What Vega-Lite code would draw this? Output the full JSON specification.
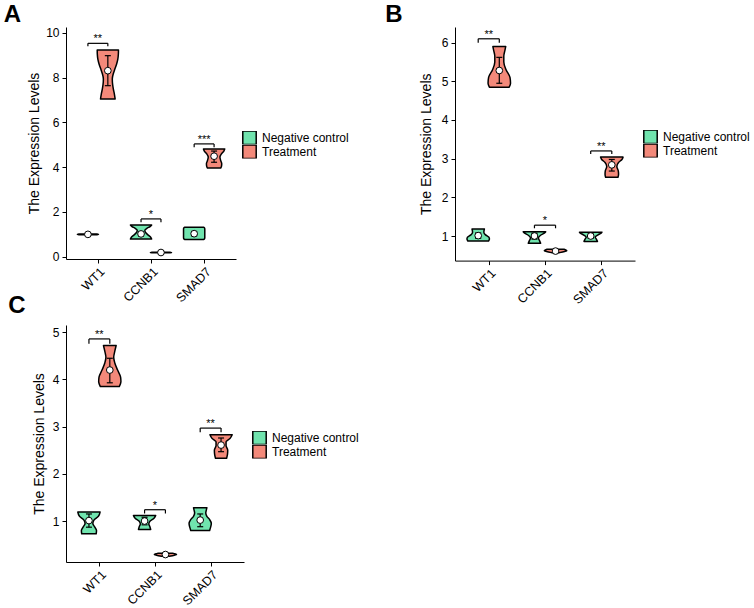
{
  "$schema": "https://vega.github.io/schema/vega-lite/v6.json",
  "padding": {"left": 3, "top": 2, "right": 0, "bottom": 0},
  "datasets": {
    "violins": [
      {"p":"A","gene":"WT1","group":"Negative control","y":0.985,"w":0.85},
      {"p":"A","gene":"WT1","group":"Negative control","y":1.0,"w":1},
      {"p":"A","gene":"WT1","group":"Negative control","y":1.015,"w":0.85},
      {"p":"A","gene":"WT1","group":"Treatment","y":7.04,"w":0.69},
      {"p":"A","gene":"WT1","group":"Treatment","y":7.25,"w":0.62},
      {"p":"A","gene":"WT1","group":"Treatment","y":7.49,"w":0.52},
      {"p":"A","gene":"WT1","group":"Treatment","y":7.7,"w":0.45},
      {"p":"A","gene":"WT1","group":"Treatment","y":7.94,"w":0.42},
      {"p":"A","gene":"WT1","group":"Treatment","y":8.15,"w":0.5},
      {"p":"A","gene":"WT1","group":"Treatment","y":8.38,"w":0.66},
      {"p":"A","gene":"WT1","group":"Treatment","y":8.6,"w":0.82},
      {"p":"A","gene":"WT1","group":"Treatment","y":8.83,"w":0.94},
      {"p":"A","gene":"WT1","group":"Treatment","y":9.05,"w":0.99},
      {"p":"A","gene":"WT1","group":"Treatment","y":9.23,"w":1},
      {"p":"A","gene":"CCNB1","group":"Negative control","y":0.79,"w":1},
      {"p":"A","gene":"CCNB1","group":"Negative control","y":0.9,"w":0.85},
      {"p":"A","gene":"CCNB1","group":"Negative control","y":1.0,"w":0.6},
      {"p":"A","gene":"CCNB1","group":"Negative control","y":1.1,"w":0.4},
      {"p":"A","gene":"CCNB1","group":"Negative control","y":1.18,"w":0.36},
      {"p":"A","gene":"CCNB1","group":"Negative control","y":1.27,"w":0.55},
      {"p":"A","gene":"CCNB1","group":"Negative control","y":1.35,"w":0.85},
      {"p":"A","gene":"CCNB1","group":"Negative control","y":1.42,"w":1},
      {"p":"A","gene":"CCNB1","group":"Treatment","y":0.175,"w":0.85},
      {"p":"A","gene":"CCNB1","group":"Treatment","y":0.19,"w":1},
      {"p":"A","gene":"CCNB1","group":"Treatment","y":0.205,"w":0.85},
      {"p":"A","gene":"SMAD7","group":"Negative control","y":0.77,"w":0.88},
      {"p":"A","gene":"SMAD7","group":"Negative control","y":0.8,"w":0.97},
      {"p":"A","gene":"SMAD7","group":"Negative control","y":0.85,"w":1},
      {"p":"A","gene":"SMAD7","group":"Negative control","y":1.24,"w":1},
      {"p":"A","gene":"SMAD7","group":"Negative control","y":1.29,"w":0.97},
      {"p":"A","gene":"SMAD7","group":"Negative control","y":1.32,"w":0.88},
      {"p":"A","gene":"SMAD7","group":"Treatment","y":3.96,"w":0.62},
      {"p":"A","gene":"SMAD7","group":"Treatment","y":4.05,"w":0.7},
      {"p":"A","gene":"SMAD7","group":"Treatment","y":4.15,"w":0.72},
      {"p":"A","gene":"SMAD7","group":"Treatment","y":4.3,"w":0.62},
      {"p":"A","gene":"SMAD7","group":"Treatment","y":4.45,"w":0.55},
      {"p":"A","gene":"SMAD7","group":"Treatment","y":4.6,"w":0.7},
      {"p":"A","gene":"SMAD7","group":"Treatment","y":4.72,"w":0.92},
      {"p":"A","gene":"SMAD7","group":"Treatment","y":4.81,"w":1},
      {"p":"B","gene":"WT1","group":"Negative control","y":0.87,"w":0.92},
      {"p":"B","gene":"WT1","group":"Negative control","y":0.92,"w":1},
      {"p":"B","gene":"WT1","group":"Negative control","y":0.97,"w":0.95},
      {"p":"B","gene":"WT1","group":"Negative control","y":1.03,"w":0.65},
      {"p":"B","gene":"WT1","group":"Negative control","y":1.1,"w":0.5},
      {"p":"B","gene":"WT1","group":"Negative control","y":1.18,"w":0.55},
      {"p":"B","gene":"WT1","group":"Treatment","y":4.85,"w":0.88},
      {"p":"B","gene":"WT1","group":"Treatment","y":4.95,"w":1},
      {"p":"B","gene":"WT1","group":"Treatment","y":5.1,"w":0.95},
      {"p":"B","gene":"WT1","group":"Treatment","y":5.3,"w":0.6},
      {"p":"B","gene":"WT1","group":"Treatment","y":5.5,"w":0.4},
      {"p":"B","gene":"WT1","group":"Treatment","y":5.65,"w":0.4},
      {"p":"B","gene":"WT1","group":"Treatment","y":5.8,"w":0.5},
      {"p":"B","gene":"WT1","group":"Treatment","y":5.9,"w":0.57},
      {"p":"B","gene":"CCNB1","group":"Negative control","y":0.81,"w":0.55},
      {"p":"B","gene":"CCNB1","group":"Negative control","y":0.88,"w":0.45},
      {"p":"B","gene":"CCNB1","group":"Negative control","y":0.95,"w":0.35},
      {"p":"B","gene":"CCNB1","group":"Negative control","y":1.02,"w":0.55},
      {"p":"B","gene":"CCNB1","group":"Negative control","y":1.08,"w":0.9},
      {"p":"B","gene":"CCNB1","group":"Negative control","y":1.11,"w":1},
      {"p":"B","gene":"CCNB1","group":"Treatment","y":0.57,"w":0.35},
      {"p":"B","gene":"CCNB1","group":"Treatment","y":0.6,"w":0.8},
      {"p":"B","gene":"CCNB1","group":"Treatment","y":0.62,"w":1},
      {"p":"B","gene":"CCNB1","group":"Treatment","y":0.645,"w":0.85},
      {"p":"B","gene":"CCNB1","group":"Treatment","y":0.66,"w":0.75},
      {"p":"B","gene":"SMAD7","group":"Negative control","y":0.86,"w":0.6},
      {"p":"B","gene":"SMAD7","group":"Negative control","y":0.92,"w":0.5},
      {"p":"B","gene":"SMAD7","group":"Negative control","y":0.97,"w":0.4},
      {"p":"B","gene":"SMAD7","group":"Negative control","y":1.03,"w":0.65},
      {"p":"B","gene":"SMAD7","group":"Negative control","y":1.08,"w":0.95},
      {"p":"B","gene":"SMAD7","group":"Negative control","y":1.1,"w":1},
      {"p":"B","gene":"SMAD7","group":"Treatment","y":2.52,"w":0.55},
      {"p":"B","gene":"SMAD7","group":"Treatment","y":2.6,"w":0.6},
      {"p":"B","gene":"SMAD7","group":"Treatment","y":2.68,"w":0.58},
      {"p":"B","gene":"SMAD7","group":"Treatment","y":2.8,"w":0.45},
      {"p":"B","gene":"SMAD7","group":"Treatment","y":2.9,"w":0.6},
      {"p":"B","gene":"SMAD7","group":"Treatment","y":2.98,"w":0.9},
      {"p":"B","gene":"SMAD7","group":"Treatment","y":3.04,"w":1},
      {"p":"C","gene":"WT1","group":"Negative control","y":0.73,"w":0.65},
      {"p":"C","gene":"WT1","group":"Negative control","y":0.8,"w":0.68},
      {"p":"C","gene":"WT1","group":"Negative control","y":0.88,"w":0.5},
      {"p":"C","gene":"WT1","group":"Negative control","y":0.95,"w":0.35},
      {"p":"C","gene":"WT1","group":"Negative control","y":1.02,"w":0.45},
      {"p":"C","gene":"WT1","group":"Negative control","y":1.1,"w":0.85},
      {"p":"C","gene":"WT1","group":"Negative control","y":1.19,"w":1},
      {"p":"C","gene":"WT1","group":"Treatment","y":3.85,"w":0.85},
      {"p":"C","gene":"WT1","group":"Treatment","y":3.95,"w":1},
      {"p":"C","gene":"WT1","group":"Treatment","y":4.05,"w":0.97},
      {"p":"C","gene":"WT1","group":"Treatment","y":4.2,"w":0.7},
      {"p":"C","gene":"WT1","group":"Treatment","y":4.35,"w":0.45},
      {"p":"C","gene":"WT1","group":"Treatment","y":4.47,"w":0.35},
      {"p":"C","gene":"WT1","group":"Treatment","y":4.6,"w":0.45},
      {"p":"C","gene":"WT1","group":"Treatment","y":4.72,"w":0.57},
      {"p":"C","gene":"CCNB1","group":"Negative control","y":0.82,"w":0.55},
      {"p":"C","gene":"CCNB1","group":"Negative control","y":0.88,"w":0.48},
      {"p":"C","gene":"CCNB1","group":"Negative control","y":0.94,"w":0.38},
      {"p":"C","gene":"CCNB1","group":"Negative control","y":1.0,"w":0.5},
      {"p":"C","gene":"CCNB1","group":"Negative control","y":1.06,"w":0.85},
      {"p":"C","gene":"CCNB1","group":"Negative control","y":1.12,"w":1},
      {"p":"C","gene":"CCNB1","group":"Treatment","y":0.255,"w":0.35},
      {"p":"C","gene":"CCNB1","group":"Treatment","y":0.275,"w":0.8},
      {"p":"C","gene":"CCNB1","group":"Treatment","y":0.29,"w":1},
      {"p":"C","gene":"CCNB1","group":"Treatment","y":0.305,"w":0.85},
      {"p":"C","gene":"CCNB1","group":"Treatment","y":0.315,"w":0.7},
      {"p":"C","gene":"SMAD7","group":"Negative control","y":0.8,"w":0.85},
      {"p":"C","gene":"SMAD7","group":"Negative control","y":0.88,"w":0.95},
      {"p":"C","gene":"SMAD7","group":"Negative control","y":0.95,"w":1},
      {"p":"C","gene":"SMAD7","group":"Negative control","y":1.03,"w":0.85},
      {"p":"C","gene":"SMAD7","group":"Negative control","y":1.1,"w":0.6},
      {"p":"C","gene":"SMAD7","group":"Negative control","y":1.17,"w":0.5},
      {"p":"C","gene":"SMAD7","group":"Negative control","y":1.23,"w":0.55},
      {"p":"C","gene":"SMAD7","group":"Negative control","y":1.28,"w":0.6},
      {"p":"C","gene":"SMAD7","group":"Treatment","y":2.33,"w":0.5},
      {"p":"C","gene":"SMAD7","group":"Treatment","y":2.42,"w":0.58},
      {"p":"C","gene":"SMAD7","group":"Treatment","y":2.5,"w":0.6},
      {"p":"C","gene":"SMAD7","group":"Treatment","y":2.6,"w":0.45},
      {"p":"C","gene":"SMAD7","group":"Treatment","y":2.68,"w":0.45},
      {"p":"C","gene":"SMAD7","group":"Treatment","y":2.75,"w":0.8},
      {"p":"C","gene":"SMAD7","group":"Treatment","y":2.83,"w":1}
    ],
    "means": [
      {"p":"A","gene":"WT1","group":"Negative control","mean":1.0,"lo":0.99,"hi":1.01},
      {"p":"A","gene":"WT1","group":"Treatment","mean":8.31,"lo":7.64,"hi":8.98},
      {"p":"A","gene":"CCNB1","group":"Negative control","mean":1.02,"lo":0.92,"hi":1.12},
      {"p":"A","gene":"CCNB1","group":"Treatment","mean":0.19,"lo":0.18,"hi":0.2},
      {"p":"A","gene":"SMAD7","group":"Negative control","mean":1.03,"lo":0.93,"hi":1.13},
      {"p":"A","gene":"SMAD7","group":"Treatment","mean":4.49,"lo":4.22,"hi":4.72},
      {"p":"B","gene":"WT1","group":"Negative control","mean":1.01,"lo":0.94,"hi":1.08},
      {"p":"B","gene":"WT1","group":"Treatment","mean":5.28,"lo":4.95,"hi":5.62},
      {"p":"B","gene":"CCNB1","group":"Negative control","mean":1.0,"lo":0.92,"hi":1.07},
      {"p":"B","gene":"CCNB1","group":"Treatment","mean":0.61,"lo":0.6,"hi":0.63},
      {"p":"B","gene":"SMAD7","group":"Negative control","mean":1.0,"lo":0.94,"hi":1.05},
      {"p":"B","gene":"SMAD7","group":"Treatment","mean":2.84,"lo":2.68,"hi":2.98},
      {"p":"C","gene":"WT1","group":"Negative control","mean":1.01,"lo":0.87,"hi":1.15},
      {"p":"C","gene":"WT1","group":"Treatment","mean":4.2,"lo":3.93,"hi":4.45},
      {"p":"C","gene":"CCNB1","group":"Negative control","mean":1.0,"lo":0.92,"hi":1.08},
      {"p":"C","gene":"CCNB1","group":"Treatment","mean":0.29,"lo":0.28,"hi":0.3},
      {"p":"C","gene":"SMAD7","group":"Negative control","mean":1.02,"lo":0.88,"hi":1.15},
      {"p":"C","gene":"SMAD7","group":"Treatment","mean":2.61,"lo":2.47,"hi":2.76}
    ],
    "sig": [
      {"p":"A","gene":"WT1","ybar":9.53,"ylow":9.4,"label":"**"},
      {"p":"A","gene":"CCNB1","ybar":1.69,"ylow":1.54,"label":"*"},
      {"p":"A","gene":"SMAD7","ybar":5.04,"ylow":4.89,"label":"***"},
      {"p":"B","gene":"WT1","ybar":6.1,"ylow":6.0,"label":"**"},
      {"p":"B","gene":"CCNB1","ybar":1.28,"ylow":1.2,"label":"*"},
      {"p":"B","gene":"SMAD7","ybar":3.2,"ylow":3.12,"label":"**"},
      {"p":"C","gene":"WT1","ybar":4.86,"ylow":4.76,"label":"**"},
      {"p":"C","gene":"CCNB1","ybar":1.24,"ylow":1.16,"label":"*"},
      {"p":"C","gene":"SMAD7","ybar":2.97,"ylow":2.88,"label":"**"}
    ]
  },
  "vconcat": [
    {
      "hconcat": [
        {
          "width": 170, "height": 232,
          "title": {"text": "A", "dx": -24, "offset": 0},
          "layer": [
            {"data": {"name": "violins"},
             "transform": [{"filter": "datum.p == 'A'"},
               {"calculate": "indexof(['WT1','CCNB1','SMAD7'], datum.gene) + 1 + (datum.group == 'Treatment' ? 0.1875 : -0.1875)", "as": "xc"},
               {"calculate": "datum.xc - 0.2*datum.w", "as": "xl"},
               {"calculate": "datum.xc + 0.2*datum.w", "as": "xr"}],
             "mark": {"type": "area", "orient": "horizontal", "stroke": "black", "strokeWidth": 1.5, "strokeJoin": "round", "opacity": 1, "interpolate": "monotone"},
             "encoding": {
               "y": {"field": "y", "type": "quantitative", "title": "The Expression Levels", "scale": {"domain": [-0.1, 10.26], "nice": false, "zero": false}, "axis": {"values": [0,2,4,6,8,10], "titlePadding": 4}},
               "x": {"field": "xl", "type": "quantitative", "title": null, "scale": {"domain": [0.4, 3.6], "nice": false, "zero": false}, "axis": {"values": [1,2,3], "labelExpr": "['WT1','CCNB1','SMAD7'][datum.value-1]", "labelAngle": -45, "labelAlign": "right", "labelBaseline": "top", "labelPadding": 2, "labelFontSize": 12.5}},
               "x2": {"field": "xr"},
               "fill": {"field": "group", "type": "nominal", "scale": {"domain": ["Negative control", "Treatment"], "range": ["#70E4AE", "#F3897A"]}, "legend": {"orient": "none", "legendX": 176, "legendY": 104, "title": null}},
               "detail": {"field": "gene"}
             }},
            {"data": {"name": "means"},
             "transform": [{"filter": "datum.p == 'A'"},
               {"calculate": "indexof(['WT1','CCNB1','SMAD7'], datum.gene) + 1 + (datum.group == 'Treatment' ? 0.1875 : -0.1875)", "as": "xc"}],
             "mark": {"type": "rule", "color": "black", "strokeWidth": 1.2},
             "encoding": {"x": {"field": "xc", "type": "quantitative", "title": null}, "y": {"field": "lo", "type": "quantitative", "title": "The Expression Levels"}, "y2": {"field": "hi"}}},
            {"data": {"name": "means"},
             "transform": [{"filter": "datum.p == 'A'"},
               {"calculate": "indexof(['WT1','CCNB1','SMAD7'], datum.gene) + 1 + (datum.group == 'Treatment' ? 0.1875 : -0.1875)", "as": "xc"},
               {"fold": ["lo", "hi"], "as": ["k", "v"]}],
             "mark": {"type": "tick", "orient": "horizontal", "color": "black", "size": 6, "thickness": 1.2, "opacity": 1},
             "encoding": {"x": {"field": "xc", "type": "quantitative", "title": null}, "y": {"field": "v", "type": "quantitative", "title": "The Expression Levels"}}},
            {"data": {"name": "means"},
             "transform": [{"filter": "datum.p == 'A'"},
               {"calculate": "indexof(['WT1','CCNB1','SMAD7'], datum.gene) + 1 + (datum.group == 'Treatment' ? 0.1875 : -0.1875)", "as": "xc"}],
             "mark": {"type": "point", "shape": "circle", "filled": true, "fill": "white", "stroke": "black", "strokeWidth": 1, "size": 45, "opacity": 1},
             "encoding": {"x": {"field": "xc", "type": "quantitative", "title": null}, "y": {"field": "mean", "type": "quantitative", "title": "The Expression Levels"}}},
            {"data": {"name": "sig"},
             "transform": [{"filter": "datum.p == 'A'"},
               {"calculate": "indexof(['WT1','CCNB1','SMAD7'], datum.gene) + 1", "as": "xg"},
               {"calculate": "datum.xg - 0.1875", "as": "xnc"},
               {"calculate": "datum.xg + 0.1875", "as": "xt"}],
             "mark": {"type": "rule", "color": "black", "strokeWidth": 1.2},
             "encoding": {"x": {"field": "xnc", "type": "quantitative", "title": null}, "x2": {"field": "xt"}, "y": {"field": "ybar", "type": "quantitative", "title": "The Expression Levels"}}},
            {"data": {"name": "sig"},
             "transform": [{"filter": "datum.p == 'A'"},
               {"calculate": "indexof(['WT1','CCNB1','SMAD7'], datum.gene) + 1", "as": "xg"},
               {"calculate": "datum.xg - 0.1875", "as": "xnc"},
               {"calculate": "datum.xg + 0.1875", "as": "xt"},
               {"fold": ["xnc", "xt"], "as": ["k", "xv"]}],
             "mark": {"type": "rule", "color": "black", "strokeWidth": 1.2},
             "encoding": {"x": {"field": "xv", "type": "quantitative", "title": null}, "y": {"field": "ylow", "type": "quantitative", "title": "The Expression Levels"}, "y2": {"field": "ybar"}}},
            {"data": {"name": "sig"},
             "transform": [{"filter": "datum.p == 'A'"},
               {"calculate": "indexof(['WT1','CCNB1','SMAD7'], datum.gene) + 1", "as": "xg"}],
             "mark": {"type": "text", "baseline": "alphabetic", "align": "center", "fontSize": 11, "fill": "black", "dy": -1},
             "encoding": {"x": {"field": "xg", "type": "quantitative", "title": null}, "y": {"field": "ybar", "type": "quantitative", "title": "The Expression Levels"}, "text": {"field": "label"}}}
          ]
        },
        {
          "width": 180, "height": 233.6,
          "title": {"text": "B", "dx": -34, "offset": 0},
          "layer": [
            {"data": {"name": "violins"},
             "transform": [{"filter": "datum.p == 'B'"},
               {"calculate": "indexof(['WT1','CCNB1','SMAD7'], datum.gene) + 1 + (datum.group == 'Treatment' ? 0.1875 : -0.1875)", "as": "xc"},
               {"calculate": "datum.xc - 0.2*datum.w", "as": "xl"},
               {"calculate": "datum.xc + 0.2*datum.w", "as": "xr"}],
             "mark": {"type": "area", "orient": "horizontal", "stroke": "black", "strokeWidth": 1.5, "strokeJoin": "round", "opacity": 1, "interpolate": "monotone"},
             "encoding": {
               "y": {"field": "y", "type": "quantitative", "title": "The Expression Levels", "scale": {"domain": [0.364, 6.405], "nice": false, "zero": false}, "axis": {"values": [1,2,3,4,5,6], "titlePadding": 8}},
               "x": {"field": "xl", "type": "quantitative", "title": null, "scale": {"domain": [0.4, 3.6], "nice": false, "zero": false}, "axis": {"values": [1,2,3], "labelExpr": "['WT1','CCNB1','SMAD7'][datum.value-1]", "labelAngle": -45, "labelAlign": "right", "labelBaseline": "top", "labelPadding": 2, "labelFontSize": 12.5}},
               "x2": {"field": "xr"},
               "fill": {"field": "group", "type": "nominal", "scale": {"domain": ["Negative control", "Treatment"], "range": ["#70E4AE", "#F3897A"]}, "legend": {"orient": "none", "legendX": 188, "legendY": 103, "title": null}},
               "detail": {"field": "gene"}
             }},
            {"data": {"name": "means"},
             "transform": [{"filter": "datum.p == 'B'"},
               {"calculate": "indexof(['WT1','CCNB1','SMAD7'], datum.gene) + 1 + (datum.group == 'Treatment' ? 0.1875 : -0.1875)", "as": "xc"}],
             "mark": {"type": "rule", "color": "black", "strokeWidth": 1.2},
             "encoding": {"x": {"field": "xc", "type": "quantitative", "title": null}, "y": {"field": "lo", "type": "quantitative", "title": "The Expression Levels"}, "y2": {"field": "hi"}}},
            {"data": {"name": "means"},
             "transform": [{"filter": "datum.p == 'B'"},
               {"calculate": "indexof(['WT1','CCNB1','SMAD7'], datum.gene) + 1 + (datum.group == 'Treatment' ? 0.1875 : -0.1875)", "as": "xc"},
               {"fold": ["lo", "hi"], "as": ["k", "v"]}],
             "mark": {"type": "tick", "orient": "horizontal", "color": "black", "size": 6, "thickness": 1.2, "opacity": 1},
             "encoding": {"x": {"field": "xc", "type": "quantitative", "title": null}, "y": {"field": "v", "type": "quantitative", "title": "The Expression Levels"}}},
            {"data": {"name": "means"},
             "transform": [{"filter": "datum.p == 'B'"},
               {"calculate": "indexof(['WT1','CCNB1','SMAD7'], datum.gene) + 1 + (datum.group == 'Treatment' ? 0.1875 : -0.1875)", "as": "xc"}],
             "mark": {"type": "point", "shape": "circle", "filled": true, "fill": "white", "stroke": "black", "strokeWidth": 1, "size": 45, "opacity": 1},
             "encoding": {"x": {"field": "xc", "type": "quantitative", "title": null}, "y": {"field": "mean", "type": "quantitative", "title": "The Expression Levels"}}},
            {"data": {"name": "sig"},
             "transform": [{"filter": "datum.p == 'B'"},
               {"calculate": "indexof(['WT1','CCNB1','SMAD7'], datum.gene) + 1", "as": "xg"},
               {"calculate": "datum.xg - 0.1875", "as": "xnc"},
               {"calculate": "datum.xg + 0.1875", "as": "xt"}],
             "mark": {"type": "rule", "color": "black", "strokeWidth": 1.2},
             "encoding": {"x": {"field": "xnc", "type": "quantitative", "title": null}, "x2": {"field": "xt"}, "y": {"field": "ybar", "type": "quantitative", "title": "The Expression Levels"}}},
            {"data": {"name": "sig"},
             "transform": [{"filter": "datum.p == 'B'"},
               {"calculate": "indexof(['WT1','CCNB1','SMAD7'], datum.gene) + 1", "as": "xg"},
               {"calculate": "datum.xg - 0.1875", "as": "xnc"},
               {"calculate": "datum.xg + 0.1875", "as": "xt"},
               {"fold": ["xnc", "xt"], "as": ["k", "xv"]}],
             "mark": {"type": "rule", "color": "black", "strokeWidth": 1.2},
             "encoding": {"x": {"field": "xv", "type": "quantitative", "title": null}, "y": {"field": "ylow", "type": "quantitative", "title": "The Expression Levels"}, "y2": {"field": "ybar"}}},
            {"data": {"name": "sig"},
             "transform": [{"filter": "datum.p == 'B'"},
               {"calculate": "indexof(['WT1','CCNB1','SMAD7'], datum.gene) + 1", "as": "xg"}],
             "mark": {"type": "text", "baseline": "alphabetic", "align": "center", "fontSize": 11, "fill": "black", "dy": -1},
             "encoding": {"x": {"field": "xg", "type": "quantitative", "title": null}, "y": {"field": "ybar", "type": "quantitative", "title": "The Expression Levels"}, "text": {"field": "label"}}}
          ]
        }
      ],
      "spacing": 36,
      "resolve": {"scale": {"fill": "independent"}, "legend": {"fill": "independent"}}
    },
    {
      "width": 178, "height": 237,
      "title": {"text": "C", "dx": -24, "offset": 7},
      "layer": [
        {"data": {"name": "violins"},
         "transform": [{"filter": "datum.p == 'C'"},
           {"calculate": "indexof(['WT1','CCNB1','SMAD7'], datum.gene) + 1 + (datum.group == 'Treatment' ? 0.1875 : -0.1875)", "as": "xc"},
           {"calculate": "datum.xc - 0.2*datum.w", "as": "xl"},
           {"calculate": "datum.xc + 0.2*datum.w", "as": "xr"}],
         "mark": {"type": "area", "orient": "horizontal", "stroke": "black", "strokeWidth": 1.5, "strokeJoin": "round", "opacity": 1, "interpolate": "monotone"},
         "encoding": {
           "y": {"field": "y", "type": "quantitative", "title": "The Expression Levels", "scale": {"domain": [0.132, 5.155], "nice": false, "zero": false}, "axis": {"values": [1,2,3,4,5], "titlePadding": 6}},
           "x": {"field": "xl", "type": "quantitative", "title": null, "scale": {"domain": [0.4, 3.6], "nice": false, "zero": false}, "axis": {"values": [1,2,3], "labelExpr": "['WT1','CCNB1','SMAD7'][datum.value-1]", "labelAngle": -45, "labelAlign": "right", "labelBaseline": "top", "labelPadding": 2, "labelFontSize": 12.5}},
           "x2": {"field": "xr"},
           "fill": {"field": "group", "type": "nominal", "scale": {"domain": ["Negative control", "Treatment"], "range": ["#70E4AE", "#F3897A"]}, "legend": {"orient": "none", "legendX": 186, "legendY": 106, "title": null}},
           "detail": {"field": "gene"}
         }},
        {"data": {"name": "means"},
         "transform": [{"filter": "datum.p == 'C'"},
           {"calculate": "indexof(['WT1','CCNB1','SMAD7'], datum.gene) + 1 + (datum.group == 'Treatment' ? 0.1875 : -0.1875)", "as": "xc"}],
         "mark": {"type": "rule", "color": "black", "strokeWidth": 1.2},
         "encoding": {"x": {"field": "xc", "type": "quantitative", "title": null}, "y": {"field": "lo", "type": "quantitative", "title": "The Expression Levels"}, "y2": {"field": "hi"}}},
        {"data": {"name": "means"},
         "transform": [{"filter": "datum.p == 'C'"},
           {"calculate": "indexof(['WT1','CCNB1','SMAD7'], datum.gene) + 1 + (datum.group == 'Treatment' ? 0.1875 : -0.1875)", "as": "xc"},
           {"fold": ["lo", "hi"], "as": ["k", "v"]}],
         "mark": {"type": "tick", "orient": "horizontal", "color": "black", "size": 6, "thickness": 1.2, "opacity": 1},
         "encoding": {"x": {"field": "xc", "type": "quantitative", "title": null}, "y": {"field": "v", "type": "quantitative", "title": "The Expression Levels"}}},
        {"data": {"name": "means"},
         "transform": [{"filter": "datum.p == 'C'"},
           {"calculate": "indexof(['WT1','CCNB1','SMAD7'], datum.gene) + 1 + (datum.group == 'Treatment' ? 0.1875 : -0.1875)", "as": "xc"}],
         "mark": {"type": "point", "shape": "circle", "filled": true, "fill": "white", "stroke": "black", "strokeWidth": 1, "size": 45, "opacity": 1},
         "encoding": {"x": {"field": "xc", "type": "quantitative", "title": null}, "y": {"field": "mean", "type": "quantitative", "title": "The Expression Levels"}}},
        {"data": {"name": "sig"},
         "transform": [{"filter": "datum.p == 'C'"},
           {"calculate": "indexof(['WT1','CCNB1','SMAD7'], datum.gene) + 1", "as": "xg"},
           {"calculate": "datum.xg - 0.1875", "as": "xnc"},
           {"calculate": "datum.xg + 0.1875", "as": "xt"}],
         "mark": {"type": "rule", "color": "black", "strokeWidth": 1.2},
         "encoding": {"x": {"field": "xnc", "type": "quantitative", "title": null}, "x2": {"field": "xt"}, "y": {"field": "ybar", "type": "quantitative", "title": "The Expression Levels"}}},
        {"data": {"name": "sig"},
         "transform": [{"filter": "datum.p == 'C'"},
           {"calculate": "indexof(['WT1','CCNB1','SMAD7'], datum.gene) + 1", "as": "xg"},
           {"calculate": "datum.xg - 0.1875", "as": "xnc"},
           {"calculate": "datum.xg + 0.1875", "as": "xt"},
           {"fold": ["xnc", "xt"], "as": ["k", "xv"]}],
         "mark": {"type": "rule", "color": "black", "strokeWidth": 1.2},
         "encoding": {"x": {"field": "xv", "type": "quantitative", "title": null}, "y": {"field": "ylow", "type": "quantitative", "title": "The Expression Levels"}, "y2": {"field": "ybar"}}},
        {"data": {"name": "sig"},
         "transform": [{"filter": "datum.p == 'C'"},
           {"calculate": "indexof(['WT1','CCNB1','SMAD7'], datum.gene) + 1", "as": "xg"}],
         "mark": {"type": "text", "baseline": "alphabetic", "align": "center", "fontSize": 11, "fill": "black", "dy": -1},
         "encoding": {"x": {"field": "xg", "type": "quantitative", "title": null}, "y": {"field": "ybar", "type": "quantitative", "title": "The Expression Levels"}, "text": {"field": "label"}}}
      ]
    }
  ],
  "spacing": -12,
  "resolve": {"scale": {"fill": "independent"}, "legend": {"fill": "independent"}},
  "config": {
    "font": "Liberation Sans",
    "view": {"stroke": null},
    "axis": {"grid": false, "domainColor": "black", "tickColor": "black", "labelColor": "black", "titleColor": "black", "labelFontSize": 12, "titleFontSize": 14, "titleFontWeight": "normal", "tickSize": 4, "domainWidth": 1, "tickWidth": 1, "labelPadding": 3},
    "legend": {"symbolType": "square", "symbolSize": 180, "symbolStrokeColor": "black", "symbolStrokeWidth": 1.5, "symbolOpacity": 1, "labelFontSize": 12, "labelColor": "black", "rowPadding": 0, "clipHeight": 13.5, "labelOffset": 5, "padding": 0},
    "title": {"fontSize": 24, "fontWeight": "bold", "anchor": "start", "color": "black", "frame": "bounds"}
  }
}
